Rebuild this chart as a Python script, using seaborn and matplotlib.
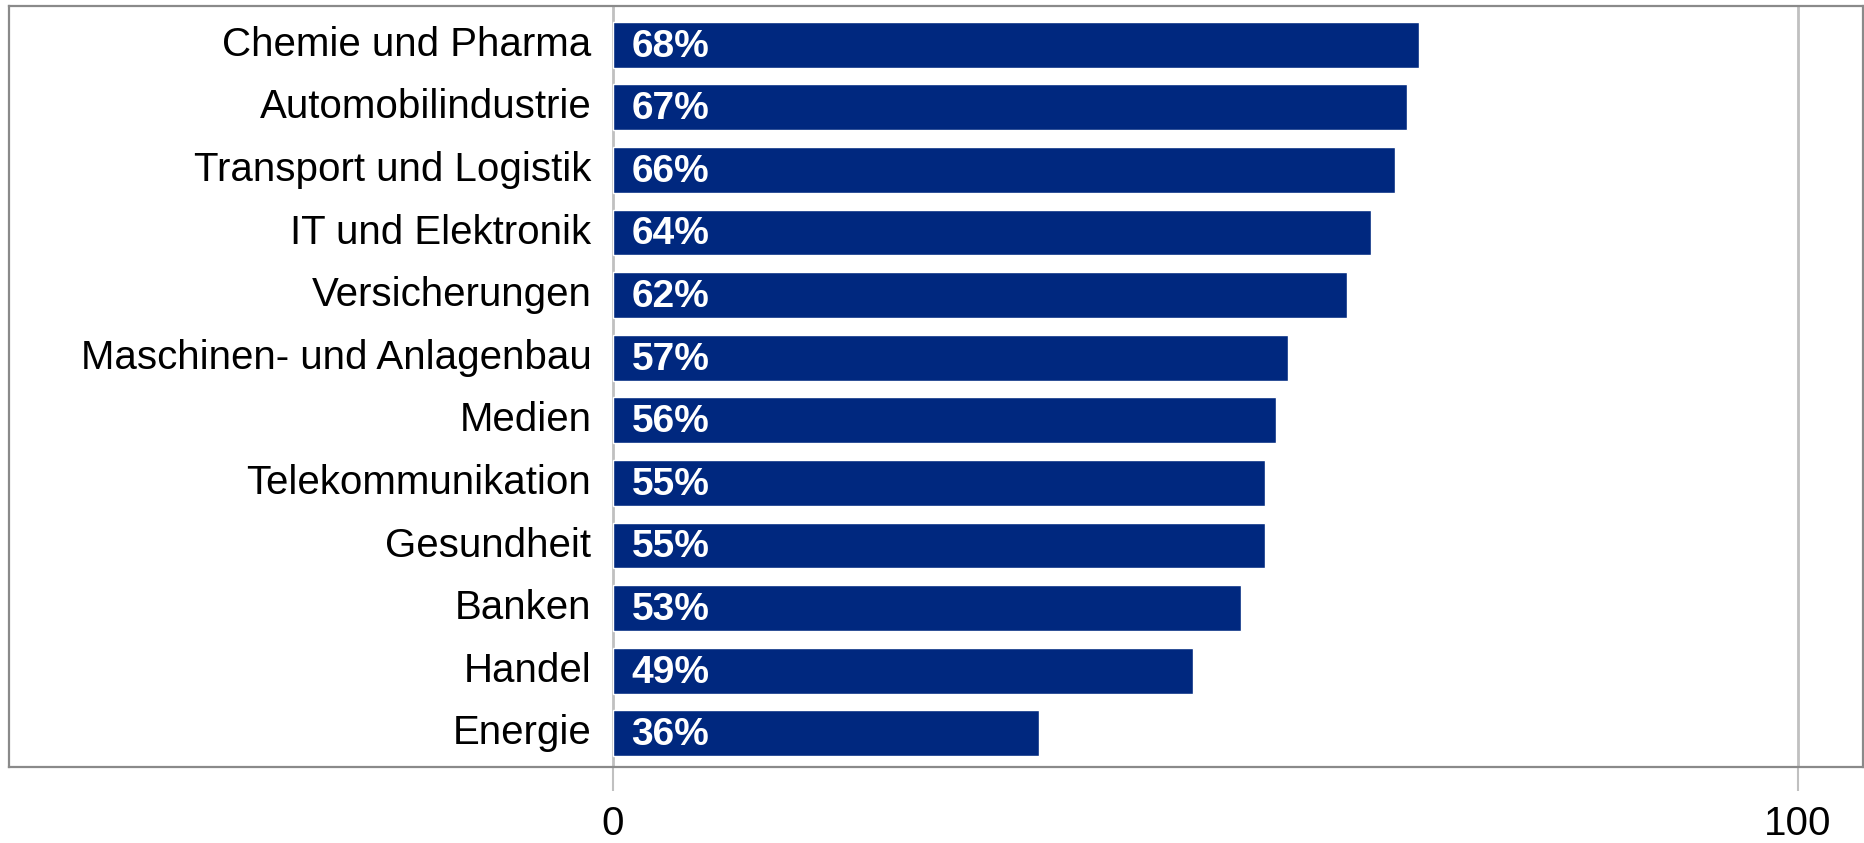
import matplotlib
matplotlib.use("Agg")
import matplotlib.pyplot as plt
import seaborn as sns

# Daten
branchen = ['Chemie und Pharma', 'Automobilindustrie', 'Transport und Logistik',
            'IT und Elektronik', 'Versicherungen', 'Maschinen- und Anlagenbau',
            'Medien', 'Telekommunikation', 'Gesundheit', 'Banken', 'Handel', 'Energie']
anteile = [68, 67, 66, 64, 62, 57, 56, 55, 55, 53, 49, 36]
x_ticks = [0, 100]
x_ticklabels = ['0', '100']

bar_farbe = '#00287F'
grid_farbe = '#c0c0c0'
rahmen_farbe = '#8a8a8a'

sns.set_style('white')
plt.rcParams['font.family'] = ['Liberation Sans', 'DejaVu Sans']

fig = plt.figure(figsize=(18.64, 8.43), dpi=100)
ax = fig.add_axes([0.005, 0.09, 0.9945, 0.903])

ax.set_axisbelow(True)
ax.grid(axis='x', color=grid_farbe, linewidth=2)
sns.barplot(x=anteile, y=branchen, orient='h', color=bar_farbe, saturation=1,
            width=0.73, ax=ax)

ax.set_xlim(-50.9, 105.5)
ax.set_ylim(11.54, -0.62)

# Beschriftungen der Kategorien innerhalb des Rahmens
ax.set_yticks([])
for i, name in enumerate(branchen):
    ax.text(-1.8, i, name, ha='right', va='center', fontsize=29, color='black')

# Prozentwerte in den Balken
for i, wert in enumerate(anteile):
    ax.text(1.6, i + 0.03, f'{wert}%', ha='left', va='center', fontsize=28,
            fontweight='bold', color='white')

ax.set_xticks(x_ticks)
ax.set_xticklabels(x_ticklabels)
ax.tick_params(axis='x', length=17, width=1.5, color=grid_farbe, pad=10,
               labelsize=29, labelcolor='black', bottom=True)
ax.set_xlabel('')
ax.set_ylabel('')

for spine in ax.spines.values():
    spine.set_visible(True)
    spine.set_color(rahmen_farbe)
    spine.set_linewidth(1.6)

fig.savefig('out.png', dpi=100)
